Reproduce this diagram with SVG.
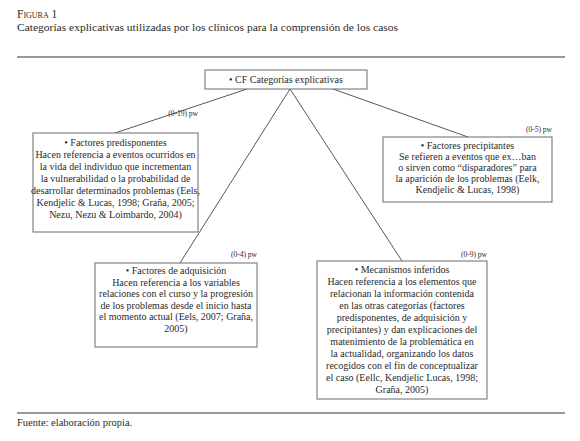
<svg xmlns="http://www.w3.org/2000/svg" width="580" height="441" viewBox="0 0 580 441">
<style>
text{font-family:"Liberation Serif","Times New Roman",serif;fill:#2a2a2a}
.t{font-size:10px;text-anchor:middle}
.pw{font-size:7.5px;text-anchor:end}
.box{fill:#fff;stroke:#6a6a6a;stroke-width:1}
.edge{stroke:#444;stroke-width:0.9;fill:none}
.rule{stroke:#777;stroke-width:1.5}
</style>
<rect width="580" height="441" fill="#fff"/>
<text x="17" y="18" style="font-size:11.5px;font-variant:small-caps">Figura 1</text>
<text x="17" y="31" style="font-size:11px" textLength="381" lengthAdjust="spacingAndGlyphs">Categorías explicativas utilizadas por los clínicos para la comprensión de los casos</text>
<line class="rule" x1="17" y1="57" x2="565" y2="57"/>
<line class="rule" x1="17" y1="413" x2="565" y2="413"/>
<text x="17" y="426" style="font-size:10.5px">Fuente: elaboración propia.</text>
<g id="connectors">
<line class="edge" x1="247" y1="89" x2="115" y2="133"/>
<line class="edge" x1="333" y1="89" x2="468" y2="137"/>
<line class="edge" x1="290" y1="89" x2="180" y2="263"/>
<line class="edge" x1="290" y1="89" x2="402" y2="261"/>
</g>
<g id="root">
<rect class="box" x="205" y="70" width="162" height="19"/>
<text class="t" x="286" y="83">• CF Categorías explicativas</text>
</g>
<g id="predisponentes">
<text class="pw" x="198" y="116">(0-19) pw</text>
<rect class="box" x="33" y="133" width="165" height="99"/>
<text class="t" x="115.5" y="146">• Factores predisponentes</text>
<text class="t" x="115.5" y="158">Hacen referencia a eventos ocurridos en</text>
<text class="t" x="115.5" y="170">la vida del individuo que incrementan</text>
<text class="t" x="115.5" y="182">la vulnerabilidad o la probabilidad de</text>
<text class="t" x="115.5" y="194">desarrollar determinados problemas (Eels,</text>
<text class="t" x="115.5" y="206">Kendjelic &amp; Lucas, 1998; Graña, 2005;</text>
<text class="t" x="115.5" y="218">Nezu, Nezu &amp; Loimbardo, 2004)</text>
</g>
<g id="precipitantes">
<text class="pw" x="552" y="132">(0-5) pw</text>
<rect class="box" x="383" y="137" width="169" height="65"/>
<text class="t" x="467.5" y="149">• Factores precipitantes</text>
<text class="t" x="467.5" y="160">Se refieren a eventos que ex…ban</text>
<text class="t" x="467.5" y="171">o sirven como “disparadores” para</text>
<text class="t" x="467.5" y="182">la aparición de los problemas (Eelk,</text>
<text class="t" x="467.5" y="193">Kendjelic &amp; Lucas, 1998)</text>
</g>
<g id="adquisicion">
<text class="pw" x="257" y="257">(0-4) pw</text>
<rect class="box" x="95" y="263" width="162" height="84"/>
<text class="t" x="176" y="274">• Factores de adquisición</text>
<text class="t" x="176" y="285.5">Hacen referencia a los variables</text>
<text class="t" x="176" y="297">relaciones con el curso y la progresión</text>
<text class="t" x="176" y="308.5">de los problemas desde el inicio hasta</text>
<text class="t" x="176" y="320">el momento actual (Eels, 2007; Graña,</text>
<text class="t" x="176" y="331.5">2005)</text>
</g>
<g id="mecanismos">
<text class="pw" x="487" y="257">(0-9) pw</text>
<rect class="box" x="317" y="261" width="170" height="138"/>
<text class="t" x="402" y="273">• Mecanismos inferidos</text>
<text class="t" x="402" y="285">Hacen referencia a los elementos que</text>
<text class="t" x="402" y="297">relacionan la información contenida</text>
<text class="t" x="402" y="309">en las otras categorías (factores</text>
<text class="t" x="402" y="321">predisponentes, de adquisición y</text>
<text class="t" x="402" y="333">precipitantes) y dan explicaciones del</text>
<text class="t" x="402" y="345">matenimiento de la problemática en</text>
<text class="t" x="402" y="357">la actualidad, organizando los datos</text>
<text class="t" x="402" y="369">recogidos con el fin de conceptualizar</text>
<text class="t" x="402" y="381">el caso (Eellc, Kendjelic Lucas, 1998;</text>
<text class="t" x="402" y="393">Graña, 2005)</text>
</g>
</svg>
